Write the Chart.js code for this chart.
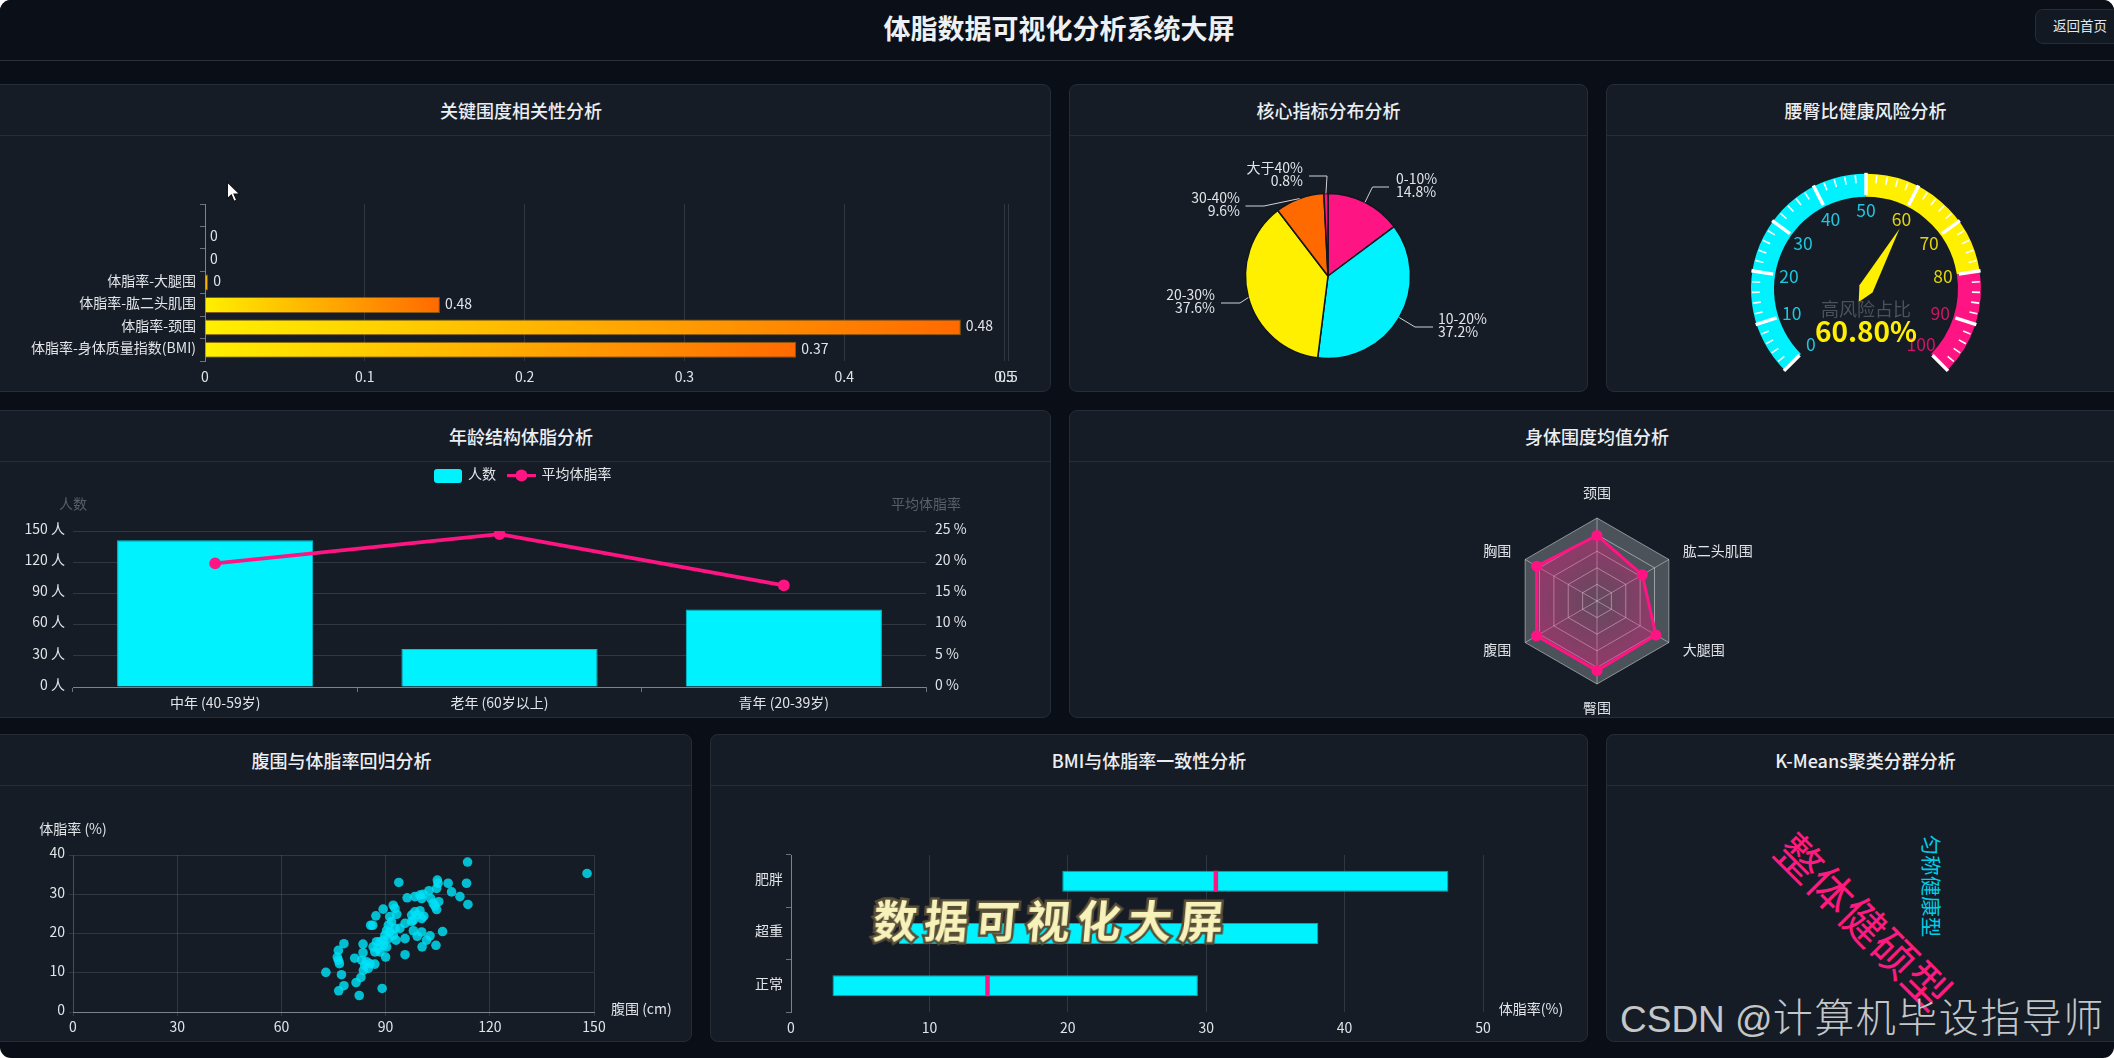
<!DOCTYPE html>
<html lang="zh-CN"><head><meta charset="utf-8">
<script src="https://cdn.jsdelivr.net/npm/chart.js@4/dist/chart.umd.min.js"></script>
<style>
html,body{margin:0;padding:0;background:#fff;overflow:hidden}
#root{position:relative;width:2114px;height:1058px;background:#0a0e16;border-radius:11px;overflow:hidden;font-family:"Noto Sans CJK SC","Noto Sans",sans-serif}
#head{position:absolute;left:0;top:0;width:100%;height:60px;background:#0b1018;border-bottom:1px solid #2a303a}
#title{position:absolute;left:0;width:2118px;top:0;height:59px;line-height:55px;text-align:center;font-size:27px;font-weight:700;color:#eef0f3}
#back{position:absolute;left:2035px;top:9px;width:100px;height:35px;box-sizing:border-box;border:1px solid #262d38;border-radius:8px;background:#131923;color:#e4e6ea;font-size:13.5px;line-height:31px;padding-left:17px}
.panel{position:absolute;box-sizing:border-box;background:#151c26;border:1px solid #262d38;border-radius:8px}
.panel h3{margin:0;height:51px;line-height:51px;text-align:center;font-size:18px;font-weight:500;color:#eceef2;border-bottom:1px solid #272e38;box-sizing:border-box}
canvas{position:absolute;display:block}
.ov{position:absolute;white-space:nowrap;transform-origin:center}
#cursor{position:absolute;left:226px;top:181px}
</style></head><body><div id="root">
<div id="head"></div><div id="title">体脂数据可视化分析系统大屏</div><div id="back">返回首页</div>
<div class="panel" style="left:-9px;top:84px;width:1060px;height:308px"><h3>关键围度相关性分析</h3></div>
<div class="panel" style="left:1069px;top:84px;width:519px;height:308px"><h3>核心指标分布分析</h3></div>
<div class="panel" style="left:1606px;top:84px;width:519px;height:308px"><h3>腰臀比健康风险分析</h3></div>
<div class="panel" style="left:-9px;top:410px;width:1060px;height:308px"><h3>年龄结构体脂分析</h3></div>
<div class="panel" style="left:1069px;top:410px;width:1056px;height:308px"><h3>身体围度均值分析</h3></div>
<div class="panel" style="left:-9px;top:734px;width:701px;height:308px"><h3>腹围与体脂率回归分析</h3></div>
<div class="panel" style="left:710px;top:734px;width:878px;height:308px"><h3>BMI与体脂率一致性分析</h3></div>
<div class="panel" style="left:1606px;top:734px;width:519px;height:308px"><h3>K-Means聚类分群分析</h3></div>
<canvas id="corr"></canvas><canvas id="pie"></canvas><canvas id="gauge"></canvas>
<canvas id="age"></canvas><canvas id="radar"></canvas><canvas id="scatter"></canvas><canvas id="bmi"></canvas>
<div class="ov" style="left:1865px;top:920px;font-size:45px;font-weight:400;line-height:1;color:#ff1a7f;transform:translate(-50%,-50%) rotate(45deg)">整体健硕型</div>
<div class="ov" style="left:1932px;top:886px;font-size:20.5px;font-weight:400;line-height:1;color:#00cfe8;transform:translate(-50%,-50%) rotate(90deg)">匀称健康型</div>
<div class="ov" style="left:1052px;top:919px;font-size:44px;font-weight:700;line-height:1;letter-spacing:7px;color:#f7f2ba;-webkit-text-stroke:5px #574d36;paint-order:stroke fill;transform:translate(-50%,-50%) skewX(-5deg)">数据可视化大屏</div>
<div class="ov" style="left:1620px;top:992px;line-height:46px;color:#c4c6c8"><span style="font:37px 'Liberation Sans',sans-serif">CSDN @</span><span style="font-family:'Noto Sans CJK SC';font-size:40px;font-weight:300;letter-spacing:1.5px">计算机毕设指导师</span></div>
<svg id="cursor" width="16" height="22" viewBox="0 0 14 20"><path d="M1 1 L1 16 L4.6 12.6 L7 18.5 L9.4 17.4 L7 11.8 L12 11.8 Z" fill="#fff" stroke="#111" stroke-width="1"/></svg>
</div>
<script>
// ---------- data ----------
const corrLabels = ['', '', '', '体脂率-大腿围', '体脂率-肱二头肌围', '体脂率-颈围', '体脂率-身体质量指数(BMI)'];
const corrValues = [null, 0, 0, 0.002, 0.147, 0.473, 0.37];
const corrShown  = ['', '0', '0', '0', '0.48', '0.48', '0.37'];
const corrTicks  = [0, 0.1, 0.2, 0.3, 0.4, 0.5, 0.5025];

const pieLabels = ['0-10%', '10-20%', '20-30%', '30-40%', '大于40%'];
const pieValues = [14.8, 37.2, 37.6, 9.6, 0.8];

const gaugeBands = [50, 30, 20];
const gaugeValue = 60.8;
const gaugeTicks = [0, 10, 20, 30, 40, 50, 60, 70, 80, 90, 100];

const ageLabels = ['中年 (40-59岁)', '老年 (60岁以上)', '青年 (20-39岁)'];
const ageCounts = [141, 36.5, 74.5];
const ageFat    = [19.8, 24.5, 16.3];

const radarLabels = ['颈围', '肱二头肌围', '大腿围', '臀围', '腹围', '胸围'];
const radarValues = [79, 63, 82, 84, 84, 84];

const waistX = [113.6,113.3,113.7,93.8,104.9,105.1,104.7,108.0,109.0,111.4,102.5,99.9,98.4,96.2,100.8,100.4,103.0,105.3,103.7,104.2,104.7,
 92.2,92.7,93.2,89.3,87.2,85.7,86.3,98.4,99.9,97.5,99.1,101.0,100.4,98.0,95.6,94.1,97.5,
 91.2,91.7,90.8,90.3,92.7,91.2,89.8,92.2,90.8,89.3,88.4,87.4,86.4,87.9,89.3,90.3,88.4,86.9,93.0,95.6,
 98.0,99.1,100.4,102.8,101.8,106.4,104.5,100.5,95.6,90.0,
 78.0,76.4,76.1,76.4,76.7,83.5,83.5,81.1,83.1,84.5,84.0,85.0,85.5,86.9,83.6,
 72.8,77.3,82.9,81.5,78.0,76.5,82.4,89.0,148.0];
const fatY = [38.2,32.8,27.4,33.0,33.6,32.8,31.5,32.8,30.6,29.4,30.9,29.8,29.4,29.1,30.0,28.9,28.9,28.1,27.7,27.0,26.1,
 27.2,26.4,24.9,26.2,24.5,22.1,22.1,25.5,25.8,24.7,24.7,24.4,23.8,23.4,22.6,21.3,23.0,
 24.3,23.0,22.1,20.8,21.3,20.4,19.6,19.6,18.7,18.3,17.9,17.9,16.6,16.2,17.0,16.6,15.3,15.3,18.3,18.7,
 20.7,19.3,20.4,19.4,18.3,20.5,17.0,16.6,14.6,14.0,
 17.4,15.7,14.0,13.2,12.3,17.3,15.1,13.7,13.2,12.8,11.9,11.1,12.3,12.2,10.6,
 10.1,9.5,8.8,7.5,6.7,5.4,4.2,6.0,35.3];

const bmiLabels = ['肥胖', '超重', '正常'];
const bmiLow    = [19.6, 7.8, 3.0];
const bmiHigh   = [47.5, 38.1, 29.4];
const bmiMedian = [30.7, 22.6, 14.2];

// ---------- style ----------
const CYAN = '#00f2ff', PINK = '#ff1483', YELLOW = '#fff000', ORANGE = '#ff6a00';
const FONT = '"Noto Sans CJK SC","Noto Sans",sans-serif';
const GRID = 'rgba(255,255,255,.12)', AXIS = 'rgba(255,255,255,.38)', TXT = '#e2e4e8';
Chart.defaults.font.family = FONT;
Chart.defaults.font.size = 14;
Chart.defaults.color = TXT;
Chart.defaults.animation = false;
Chart.defaults.responsive = false;
Chart.defaults.devicePixelRatio = 1;
Chart.defaults.plugins.legend.display = false;
Chart.defaults.plugins.tooltip.enabled = false;

function canvas(id, x, y, w, h) {
  const c = document.getElementById(id);
  c.width = w; c.height = h;
  c.style.left = x + 'px'; c.style.top = y + 'px';
  c.style.width = w + 'px'; c.style.height = h + 'px';
  return c;
}
const setW = v => s => { s.width = v; };
const setH = v => s => { s.height = v; };
function text(ctx, s, x, y, color, font, align) {
  ctx.save(); ctx.fillStyle = color; ctx.font = font || `14px ${FONT}`;
  ctx.textAlign = align || 'left'; ctx.textBaseline = 'middle';
  ctx.fillText(s, x, y - 1.5); ctx.restore();
}

// ---------- correlation bars ----------
new Chart(canvas('corr', 0, 136, 1050, 255), {
  type: 'bar',
  data: { labels: corrLabels, datasets: [{
    data: corrValues, barPercentage: .71, categoryPercentage: 1,
    borderWidth: 1, borderColor: 'rgba(170,110,0,.75)',
    backgroundColor: c => {
      const sc = c.chart.scales.x;
      if (!sc || !c.parsed || !c.parsed.x) return ORANGE;
      const g = c.chart.ctx.createLinearGradient(sc.getPixelForValue(0), 0, sc.getPixelForValue(c.parsed.x), 0);
      g.addColorStop(0, YELLOW); g.addColorStop(1, ORANGE); return g;
    }
  }]},
  options: {
    indexAxis: 'y',
    layout: { padding: { top: 68, right: 42, left: 0, bottom: 0 } },
    scales: {
      x: { min: 0, max: 0.5025, afterFit: setH(30),
        afterBuildTicks: s => { s.ticks = corrTicks.map(value => ({ value })); },
        grid: { color: GRID, drawTicks: false }, border: { display: false },
        ticks: { padding: 7, autoSkip: false, maxRotation: 0, callback: v => String(Math.round(v * 10) / 10) } },
      y: { afterFit: setW(205), grid: { drawOnChartArea: false, color: AXIS, tickLength: 5 },
        border: { color: AXIS }, ticks: { padding: 4, autoSkip: false, labelOffset: -2 } }
    }
  },
  plugins: [{ id: 'barLabels', afterDatasetsDraw(ch) {
    ch.getDatasetMeta(0).data.forEach((el, i) => {
      if (corrShown[i]) text(ch.ctx, corrShown[i], el.x + 5, el.y, TXT);
    });
  }}]
});

// ---------- pie ----------
const pieLeader = [
  { e: [1372.5, 187], h: 1389, tx: 1396 }, { e: [1415, 327], h: 1433, tx: 1438 },
  { e: [1240, 303], h: 1221, tx: 1215 }, { e: [1264, 206], h: 1245.5, tx: 1240 },
  { e: [1327, 176], h: 1309, tx: 1303 }];
new Chart(canvas('pie', 1070, 136, 516, 255), {
  type: 'pie',
  data: { labels: pieLabels, datasets: [{ data: pieValues, radius: 82.5,
    backgroundColor: [PINK, CYAN, YELLOW, ORANGE, PINK], borderColor: '#10161f', borderWidth: 1.5 }] },
  options: { layout: { padding: { top: 25 } } },
  plugins: [{ id: 'pieLabels', afterDraw(ch) {
    const ctx = ch.ctx, ox = 1070, oy = 136;
    ch.getDatasetMeta(0).data.forEach((a, i) => {
      const m = (a.startAngle + a.endAngle) / 2, L = pieLeader[i];
      const ex = L.e[0] - ox, ey = L.e[1] - oy, hx = L.h - ox;
      ctx.save(); ctx.strokeStyle = '#d0d2d6'; ctx.lineWidth = 1;
      ctx.beginPath(); ctx.moveTo(a.x + Math.cos(m) * a.outerRadius, a.y + Math.sin(m) * a.outerRadius);
      ctx.lineTo(ex, ey); ctx.lineTo(hx, ey); ctx.stroke(); ctx.restore();
      const al = L.tx > L.h ? 'left' : 'right';
      text(ctx, pieLabels[i], L.tx - ox, ey - 7, TXT, `14px ${FONT}`, al);
      text(ctx, pieValues[i] + '%', L.tx - ox, ey + 6.5, TXT, `14px ${FONT}`, al);
    });
  }}]
});

// ---------- gauge ----------
new Chart(canvas('gauge', 1607, 140, 518, 264), {
  type: 'doughnut',
  data: { datasets: [{ data: gaugeBands, radius: 115, backgroundColor: [CYAN, YELLOW, PINK], borderWidth: 0 }] },
  options: { rotation: -135, circumference: 270, cutout: '80%' },
  plugins: [{ id: 'gaugeDial', afterDraw(ch) {
    const ctx = ch.ctx, a0 = ch.getDatasetMeta(0).data[0], cx = a0.x, cy = a0.y, R = a0.outerRadius;
    const ang = v => (225 - 270 * v / 100) * Math.PI / 180;
    const P = (v, r) => [cx + Math.cos(ang(v)) * r, cy - Math.sin(ang(v)) * r];
    ctx.save(); ctx.strokeStyle = '#fff';
    for (let v = 0; v <= 100; v += 2) {
      const major = v % 10 === 0;
      const a = P(v, major ? R + 1 : R - 1), b = P(v, major ? R - 21 : R - 9);
      ctx.lineWidth = major ? 3.5 : 1.6;
      ctx.beginPath(); ctx.moveTo(a[0], a[1]); ctx.lineTo(b[0], b[1]); ctx.stroke();
    }
    ctx.restore();
    gaugeTicks.forEach(v => {
      const p = P(v, 78), col = v <= 50 ? '#1fc6dc' : v <= 80 ? '#e0d30e' : '#d01468';
      text(ctx, String(v), p[0], p[1] + 1.5, col, `17.5px ${FONT}`, 'center');
    });
    const d = ang(gaugeValue), dx = Math.cos(d), dy = -Math.sin(d), px = -dy, py = dx;
    ctx.save(); ctx.fillStyle = YELLOW; ctx.beginPath();
    ctx.moveTo(cx + dx * 69, cy + dy * 69);
    ctx.lineTo(cx + px * 7.5, cy + py * 7.5);
    ctx.lineTo(cx - dx * 15, cy - dy * 15);
    ctx.lineTo(cx - px * 7.5, cy - py * 7.5);
    ctx.closePath(); ctx.fill(); ctx.restore();
    text(ctx, '高风险占比', cx, cy + 22, '#4d5258', `18px ${FONT}`, 'center');
    text(ctx, gaugeValue.toFixed(2) + '%', cx, cy + 44, YELLOW, `700 28px ${FONT}`, 'center');
  }}]
});

// ---------- age ----------
new Chart(canvas('age', 0, 462, 1050, 254), {
  data: { labels: ageLabels, datasets: [
    { type: 'line', label: '平均体脂率', data: ageFat, yAxisID: 'y1', order: 0, borderColor: PINK, borderWidth: 3.8, backgroundColor: PINK, pointRadius: 4, tension: 0 },
    { type: 'bar', label: '人数', data: ageCounts, yAxisID: 'y', order: 1, backgroundColor: CYAN, borderColor: '#00c4d8', borderWidth: 1, barPercentage: .69, categoryPercentage: 1 }
  ]},
  options: {
    layout: { padding: { top: 69 } },
    scales: {
      x: { afterFit: setH(29), grid: { drawOnChartArea: false, color: AXIS, tickLength: 5 }, border: { color: AXIS }, ticks: { padding: 2, maxRotation: 0 } },
      y: { position: 'left', min: 0, max: 150, afterFit: setW(73), grid: { color: GRID, drawTicks: false }, border: { display: false },
        ticks: { stepSize: 30, padding: 8, labelOffset: -2.5, callback: v => v + ' 人' } },
      y1: { position: 'right', min: 0, max: 25, afterFit: setW(124), grid: { drawOnChartArea: false, drawTicks: false }, border: { display: false },
        ticks: { stepSize: 5, padding: 9, labelOffset: -2.5, callback: v => v + ' %' } }
    }
  },
  plugins: [{ id: 'ageExtras', afterDraw(ch) {
    const ctx = ch.ctx, oy = 462, ds = ch.data.datasets;
    text(ctx, '人数', ch.chartArea.left, 505 - oy, '#5a5f66', undefined, 'center');
    text(ctx, '平均体脂率', ch.chartArea.right, 505 - oy, '#5a5f66', undefined, 'center');
    ctx.save(); ctx.fillStyle = ds[1].backgroundColor;
    ctx.beginPath(); ctx.roundRect(434, 469 - oy, 28, 14, 3); ctx.fill();
    ctx.strokeStyle = ds[0].borderColor; ctx.fillStyle = ds[0].borderColor; ctx.lineWidth = 3;
    ctx.beginPath(); ctx.moveTo(507, 475.5 - oy); ctx.lineTo(536, 475.5 - oy); ctx.stroke();
    ctx.beginPath(); ctx.arc(521.5, 475.5 - oy, 6, 0, 7); ctx.fill(); ctx.restore();
    text(ctx, ds[1].label, 468, 475 - oy, TXT);
    text(ctx, ds[0].label, 541.5, 475 - oy, TXT);
  }}]
});

// ---------- radar ----------
const rc = canvas('radar', 1070, 462, 1054, 254);
const rg = rc.getContext('2d').createRadialGradient(528, 140, 0, 528, 140, 80);
rg.addColorStop(0, 'rgba(255,20,131,.12)'); rg.addColorStop(1, 'rgba(255,20,131,.46)');
new Chart(rc, {
  type: 'radar',
  data: { labels: radarLabels, datasets: [{ data: radarValues, borderColor: PINK, borderWidth: 3, backgroundColor: rg, fill: true, pointBackgroundColor: PINK, pointBorderColor: PINK, pointRadius: 4 }] },
  options: {
    layout: { padding: { left: 444, right: 443, top: 56, bottom: 31 } },
    scales: { r: { min: 0, max: 100, backgroundColor: 'rgba(255,255,255,.24)',
      grid: { color: 'rgba(255,255,255,.45)', lineWidth: 1 },
      angleLines: { color: 'rgba(255,255,255,.4)' },
      pointLabels: { display: false }, ticks: { display: false, stepSize: 20 } } }
  },
  plugins: [{ id: 'radarLabels', afterDraw(ch) {
    const s = ch.scales.r;
    radarLabels.forEach((l, i) => {
      const vertical = i === 0 || i === 3;
      const p = s.getPointPosition(i, s.drawingArea + (vertical ? 24.5 : 16));
      text(ch.ctx, l, p.x, p.y + 0.5, TXT, undefined, vertical ? 'center' : (i < 3 ? 'left' : 'right'));
    });
  }}]
});

// ---------- scatter ----------
new Chart(canvas('scatter', 0, 787, 690, 254), {
  type: 'scatter',
  data: { datasets: [{ data: waistX.map((x, i) => ({ x, y: fatY[i] })), backgroundColor: 'rgba(0,226,248,.82)', borderWidth: 0, pointRadius: 4.8 }] },
  options: {
    layout: { padding: { top: 68, right: 96 } },
    scales: {
      x: { min: 0, max: 150, afterFit: setH(29), grid: { color: GRID, tickLength: 4 }, border: { color: AXIS }, ticks: { stepSize: 30, padding: 2, maxRotation: 0 } },
      y: { min: 0, max: 40, afterFit: setW(73), grid: { color: GRID, tickLength: 4 }, border: { color: GRID }, ticks: { stepSize: 10, padding: 4, labelOffset: -2 } }
    }
  },
  plugins: [{ id: 'scatterNames', afterDraw(ch) {
    text(ch.ctx, '体脂率 (%)', ch.chartArea.left, 830 - 787, TXT, undefined, 'center');
    text(ch.ctx, '腹围 (cm)', 611, 1010 - 787, TXT);
  }}]
});

// ---------- BMI ranges ----------
new Chart(canvas('bmi', 711, 787, 875, 254), {
  type: 'bar',
  data: { labels: bmiLabels, datasets: [
    { data: bmiMedian.map(m => [m - 0.16, m + 0.16]), order: 0, backgroundColor: PINK, barPercentage: .4, categoryPercentage: 1, grouped: false },
    { data: bmiLow.map((v, i) => [v, bmiHigh[i]]), order: 1, backgroundColor: CYAN, borderColor: '#00aabb', borderWidth: 1, borderSkipped: false, barPercentage: .4, categoryPercentage: 1, grouped: false }
  ]},
  options: {
    indexAxis: 'y',
    layout: { padding: { top: 68, right: 103 } },
    scales: {
      x: { min: 0, max: 50, afterFit: setH(29), grid: { color: GRID, drawTicks: false }, border: { display: false }, ticks: { stepSize: 10, padding: 7, maxRotation: 0 } },
      y: { afterFit: setW(80), grid: { drawOnChartArea: false, color: AXIS, tickLength: 5 }, border: { color: AXIS }, ticks: { padding: 3, labelOffset: -2.5 } }
    }
  },
  plugins: [{ id: 'bmiName', afterDraw(ch) {
    text(ch.ctx, '体脂率(%)', 1531 - 711, 1010 - 787, TXT, undefined, 'center');
  }}]
});
</script></body></html>
